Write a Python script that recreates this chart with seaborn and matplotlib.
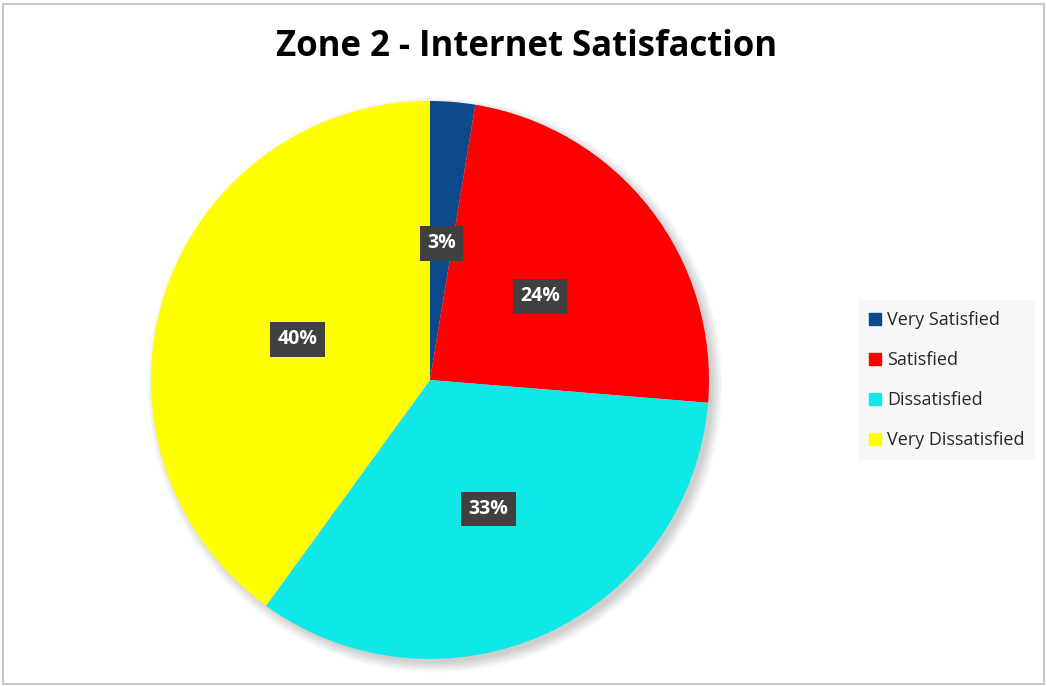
import matplotlib
matplotlib.use("Agg")
import numpy as np
import matplotlib.pyplot as plt
import seaborn as sns
from matplotlib.patches import Rectangle, Circle
from matplotlib.lines import Line2D

categories = ["Very Satisfied", "Satisfied", "Dissatisfied", "Very Dissatisfied"]
shares = [2.6, 23.7, 33.7, 40.0]
pct_labels = ["3%", "24%", "33%", "40%"]
colors = ["#0D4A8C", "#FF0000", "#10E8E8", "#FFFF00"]

sns.set_theme(style="white")
plt.rcParams["font.family"] = ["Open Sans", "DejaVu Sans"]

W, H = 1047, 686
fig = plt.figure(figsize=(W / 100, H / 100), dpi=100)

# outer border of the chart area
fig.patches.append(Rectangle((3 / W, 2 / H), (W - 6) / W, (H - 6) / H,
                             transform=fig.transFigure, fill=False,
                             edgecolor="#c8c8c8", linewidth=1.5))

cx, cy, r = 430, 380, 279
ax = fig.add_axes([(cx - r) / W, (H - cy - r) / H, 2 * r / W, 2 * r / H])
ax.set_axis_off()

# soft shadow under the pie (towards bottom right)
for k in range(8):
    ax.add_patch(Circle((0.018, -0.018), 0.995 + 0.005 * k, color="black",
                        alpha=0.022, linewidth=0, zorder=0, clip_on=False))

wedges, texts = ax.pie(
    shares, colors=colors, startangle=90, counterclock=False,
    wedgeprops=dict(linewidth=0, zorder=1),
)
for w, lab in zip(wedges, pct_labels):
    ang = np.deg2rad((w.theta1 + w.theta2) / 2)
    ax.text(0.5 * np.cos(ang), 0.5 * np.sin(ang) - 0.008, lab,
            ha="center", va="center", color="white", fontsize=14,
            fontweight="bold", zorder=3,
            bbox=dict(boxstyle="square,pad=0.38", facecolor="#404040",
                      edgecolor="none"))
ax.set_aspect("equal")
ax.set_xlim(-1, 1)
ax.set_ylim(-1, 1)

fig.text(527 / W, 1 - 47 / H, "Zone 2 - Internet Satisfaction",
         ha="center", va="center", fontsize=25, fontweight="bold", color="black")

handles = [Line2D([], [], marker="s", linestyle="none", markersize=9,
                  markerfacecolor=c, markeredgecolor=c) for c in colors]
leg = fig.legend(handles, categories, loc="center left",
                 bbox_to_anchor=(858 / W, 1 - 380 / H), frameon=True,
                 fontsize=13, handlelength=0.7, handletextpad=0.3,
                 labelspacing=1.22, borderpad=0.6, borderaxespad=0,
                 fancybox=False)
leg.get_frame().set_facecolor("#f7f7f7")
leg.get_frame().set_edgecolor("none")

fig.savefig("out.png", dpi=100, facecolor="white")
